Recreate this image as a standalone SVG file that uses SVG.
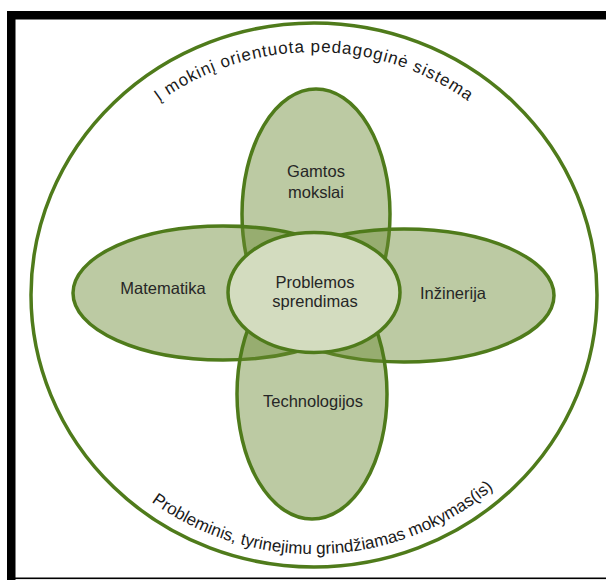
<svg xmlns="http://www.w3.org/2000/svg" xmlns:xlink="http://www.w3.org/1999/xlink" width="606" height="580" viewBox="0 0 606 580">
<style>
.petal{fill:#6a8933;fill-opacity:0.45;stroke:#4f7b1b;stroke-width:3.5}
.center{fill:#d3dcbf;stroke:#4f7b1b;stroke-width:3.5}
.lbl{font-family:"Liberation Sans",Arial,sans-serif;font-size:16.5px;fill:#262626;text-anchor:middle}
.arc{font-family:"Liberation Sans",Arial,sans-serif;font-size:17px;fill:#1a1a1a;text-anchor:middle}
</style>
<defs>
<path id="topArc" d="M59,295 A255,243 0 0 1 569,295"/>
<path id="botArc" d="M44,295 A270,259 0 0 0 584,295"/>
</defs>
<rect x="0" y="0" width="606" height="580" fill="#ffffff"/>
<g id="frame" fill="#000000">
<rect x="7" y="11" width="605" height="8.5"/>
<rect x="7" y="11" width="8.5" height="575"/>
<rect x="7" y="577.5" width="605" height="1.6"/>
</g>
<g id="outer">
<ellipse cx="314" cy="295" rx="283" ry="272" fill="none" stroke="#4f7b1b" stroke-width="3.5"/>
<text class="arc" letter-spacing="0.9"><textPath xlink:href="#topArc" href="#topArc" startOffset="50%">Į mokinį orientuota pedagoginė sistema</textPath></text>
<text class="arc"><textPath xlink:href="#botArc" href="#botArc" startOffset="51.3%">Probleminis, tyrinejimu grindžiamas mokymas(is)</textPath></text>
</g>
<g id="gamtos">
<ellipse class="petal" cx="316" cy="214" rx="74" ry="125"/>
</g>
<g id="matematika">
<ellipse class="petal" cx="223" cy="293" rx="150" ry="67"/>
</g>
<g id="inzinerija">
<ellipse class="petal" cx="404" cy="295.5" rx="150" ry="66.5"/>
</g>
<g id="technologijos">
<ellipse class="petal" cx="312" cy="394" rx="75" ry="125"/>
</g>
<g id="problemos">
<ellipse class="center" cx="314" cy="292.5" rx="86" ry="60"/>
</g>
<g id="labels">
<text class="lbl" x="316" y="177">Gamtos</text>
<text class="lbl" x="316" y="198">mokslai</text>
<text class="lbl" x="163" y="294">Matematika</text>
<text class="lbl" x="453" y="299">Inžinerija</text>
<text class="lbl" x="315" y="288">Problemos</text>
<text class="lbl" x="315" y="307">sprendimas</text>
<text class="lbl" x="313" y="407">Technologijos</text>
</g>
</svg>
